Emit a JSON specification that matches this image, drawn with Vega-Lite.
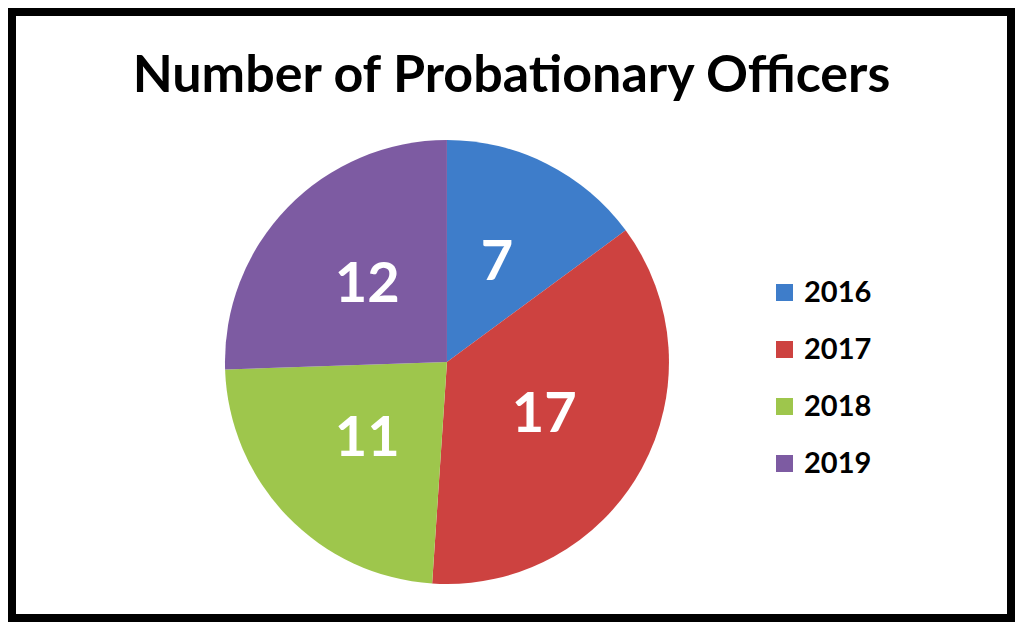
{
  "$schema": "https://vega.github.io/schema/vega-lite/v6.json",
  "width": 1015,
  "height": 623,
  "autosize": {"type": "fit", "contains": "padding"},
  "padding": {"left": 12, "top": 12, "right": 4, "bottom": 5},
  "background": "white",
  "config": {
    "view": {"stroke": "black", "strokeWidth": 8},
    "font": "Lato"
  },
  "title": {
    "text": "Number of Probationary Officers",
    "font": "Lato",
    "fontSize": 52,
    "fontWeight": "bold",
    "color": "black",
    "anchor": "middle",
    "offset": -91
  },
  "data": {
    "values": [
      {"year": "2016", "count": 7},
      {"year": "2017", "count": 17},
      {"year": "2018", "count": 11},
      {"year": "2019", "count": 12}
    ]
  },
  "encoding": {
    "theta": {"field": "count", "type": "quantitative", "stack": true},
    "order": {"field": "year", "type": "ordinal"},
    "x": {"datum": 0.4354, "type": "quantitative", "scale": {"domain": [0, 1]}, "axis": null},
    "y": {"datum": 0.4224, "type": "quantitative", "scale": {"domain": [0, 1]}, "axis": null}
  },
  "layer": [
    {
      "mark": {"type": "arc", "outerRadius": 222},
      "encoding": {
        "color": {
          "field": "year",
          "type": "nominal",
          "scale": {"domain": ["2016", "2017", "2018", "2019"], "range": ["#3e7dca", "#cd4240", "#9ec64c", "#7d5ba2"]},
          "legend": {
            "title": null,
            "orient": "none",
            "legendX": 758,
            "legendY": 266,
            "padding": 0,
            "symbolType": "square",
            "symbolSize": 289,
            "symbolStrokeWidth": 0,
            "symbolOpacity": 1,
            "labelFont": "Lato",
            "labelFontSize": 29,
            "labelFontWeight": "bold",
            "labelColor": "black",
            "labelOffset": 5,
            "rowPadding": 27
          }
        }
      }
    },
    {
      "mark": {"type": "text", "radius": 111, "fontSize": 56, "fontWeight": "bold", "font": "Lato", "color": "white", "align": "center", "baseline": "middle"},
      "encoding": {
        "text": {"field": "count", "type": "quantitative"}
      }
    }
  ]
}
